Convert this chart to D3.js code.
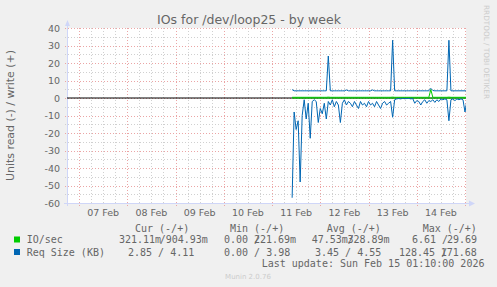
<!DOCTYPE html>
<html>
<head>
<meta charset="utf-8">
<script src="https://cdn.jsdelivr.net/npm/d3@7"></script>
<style>
  html, body { margin: 0; padding: 0; background: #f0f0f0; }
  svg { display: block; }
</style>
</head>
<body>
<svg id="chart" width="497" height="287"></svg>
<script>
// ── Data (hourly samples from Feb 11 10:00 UTC) ─────────────────────
const SERIES_START = Date.UTC(2026, 1, 11, 10, 0);

const reqSizeRead = [
  -57, -8, -18, -13, -48, -10, -1, -12, -3, -23,
  -2, -1, -2, -14, -6, -9, -3, -12, -2, -4,
  -1, -5, -2, -4, -14, -3, -1, -4, -2, -3,
  -5, -2, -4, -6, -2, -4, -3, -5, -2, -4,
  -3, -5, -2, -4, -6, -3, -2, -4, -3, -2,
  -11, -1, -0.5, -0.3, -0.5, -0.2, -0.4, -0.3, -0.2, -0.5,
  -0.3, -3, -1.5, -2, -4, -2, -1, -3, -1.5, -2,
  -1, -2.5, -1, -2, -0.5, -1, -0.5, -1, -13, -1,
  -0.5, -1.5, -0.5, -1, -0.5, -1, -8, -1
];
const reqSizeWrite = [
  4.8, 4.1, 4.1, 4.1, 4.1, 4.1, 4.1, 4.1, 4.1, 4.1,
  4.1, 4.1, 4.1, 4.1, 4.1, 4.1, 4.1, 4.1, 24, 4.1,
  4.1, 4.1, 4.1, 4.1, 4.1, 4.1, 4.1, 4.6, 4.1, 4.1,
  4.1, 4.1, 4.1, 4.1, 4.1, 4.1, 4.1, 4.1, 4.1, 4.1,
  4.6, 4.1, 4.1, 4.1, 4.1, 4.1, 4.1, 4.1, 4.1, 4.1,
  33, 4.1, 4.1, 4.1, 4.1, 4.1, 4.1, 4.1, 4.1, 4.1,
  4.1, 4.1, 4.1, 4.1, 4.1, 4.1, 4.1, 4.1, 4.1, 5.5,
  4.3, 4.1, 4.1, 4.1, 4.1, 4.1, 4.1, 4.1, 33, 4.1,
  4.1, 4.1, 4.1, 4.1, 4.1, 4.1, 4.1, 4.1
];
const ioRead = [
  -0.05, -0.05, -0.05, -0.05, -0.1, -0.05, -0.05, -0.05, -0.05, -0.05,
  -0.05, -0.05, -0.05, -0.05, -0.05, -0.05, -0.05, -0.05, -0.05, -0.05,
  -0.05, -0.05, -0.05, -0.05, -0.05, -0.05, -0.05, -0.05, -0.05, -0.05,
  -0.05, -0.05, -0.05, -0.05, -0.05, -0.05, -0.05, -0.05, -0.05, -0.05,
  -0.05, -0.05, -0.05, -0.05, -0.05, -0.05, -0.05, -0.05, -0.05, -0.05,
  -0.1, -0.05, -0.05, -0.05, -0.05, -0.05, -0.05, -0.05, -0.05, -0.05,
  -0.05, -0.05, -0.05, -0.05, -0.05, -0.05, -0.05, -0.05, -0.05, -0.1,
  -0.05, -0.05, -0.05, -0.05, -0.05, -0.05, -0.05, -0.05, -0.1, -0.05,
  -0.05, -0.05, -0.05, -0.05, -0.05, -0.05, -0.05, -0.05
];
const ioWrite = [
  0.4, 0.4, 0.4, 0.4, 0.4, 0.4, 0.4, 0.4, 0.4, 0.4,
  0.4, 0.4, 0.4, 0.4, 0.4, 0.4, 0.4, 0.4, 0.5, 0.4,
  0.4, 0.4, 0.4, 0.4, 0.4, 0.4, 0.4, 0.4, 0.4, 0.4,
  0.4, 0.4, 0.4, 0.4, 0.4, 0.4, 0.4, 0.4, 0.4, 0.4,
  0.4, 0.4, 0.4, 0.4, 0.4, 0.4, 0.4, 0.4, 0.4, 0.4,
  0.5, 0.4, 0.4, 0.4, 0.4, 0.4, 0.4, 0.4, 0.4, 0.4,
  0.4, 0.4, 0.4, 0.4, 0.4, 0.4, 0.4, 0.4, 0.4, 4.8,
  0.4, 0.4, 0.4, 0.4, 0.4, 0.4, 0.4, 0.4, 0.5, 0.4,
  0.4, 0.4, 0.4, 0.4, 0.4, 0.4, 0.4, 0.4
];

const yTicks = [40, 30, 20, 10, 0, -10, -20, -30, -40, -50, -60];

const legendNames  = ['IO/sec', 'Req Size (KB)'];
const legendColors = ['#00cc00', '#0066b3'];
const legendHeads  = ['Cur (-/+)', 'Min (-/+)', 'Avg (-/+)', 'Max (-/+)'];
// each cell is a list of text pieces (rrdtool overlaps some of them)
const legendCells = [
  [['321.11m', '/904.93m'], ['0.00 /', '221.69m'], ['47.53m/', '328.89m'], ['6.61 /', '29.69']],
  [['2.85 / 4.11'], ['0.00 / 3.98'], ['3.45 / 4.55'], ['128.45 /', '171.68']]
];
const lastUpdate = 'Last update: Sun Feb 15 01:10:00 2026';

// ── Layout ──────────────────────────────────────────────────────────
const W = 497, H = 287;
const PLOT = { left: 67, right: 466, top: 28, bottom: 203 };
const FONT = '#666666';
const SANS = '"DejaVu Sans", sans-serif';
const MONO = '"DejaVu Sans Mono", monospace';

const svg = d3.select('#chart');
svg.append('rect').attr('width', W).attr('height', H).attr('fill', '#f0f0f0');

const x = d3.scaleUtc()
  .domain([Date.UTC(2026, 1, 6, 18, 0), Date.UTC(2026, 1, 15, 0, 30)])
  .range([PLOT.left, PLOT.right]);
const y = d3.scaleLinear().domain([-60, 40]).range([PLOT.bottom, PLOT.top]);

svg.append('rect')
  .attr('x', PLOT.left).attr('y', PLOT.top)
  .attr('width', PLOT.right - PLOT.left).attr('height', PLOT.bottom - PLOT.top)
  .attr('fill', '#ffffff');

// ── Grid ────────────────────────────────────────────────────────────
const grid = svg.append('g').attr('shape-rendering', 'crispEdges');
const [t0, t1] = x.domain();

// minor: every 6h / every 5 units
d3.utcHour.every(6).range(t0, t1).forEach(t => {
  if (t.getUTCHours() === 0) return;
  const px = Math.round(x(t)) + 0.5;
  grid.append('line').attr('x1', px).attr('x2', px)
    .attr('y1', PLOT.top).attr('y2', PLOT.bottom + 2)
    .attr('stroke', '#d0d0d0').attr('stroke-dasharray', '1,2');
});
d3.range(-55, 40, 10).forEach(v => {
  const py = Math.round(y(v)) + 0.5;
  grid.append('line').attr('x1', PLOT.left - 2).attr('x2', PLOT.right)
    .attr('y1', py).attr('y2', py)
    .attr('stroke', '#d0d0d0').attr('stroke-dasharray', '1,2');
});

// major: days / every 10 units
d3.utcDay.range(t0, t1).forEach(t => {
  const px = Math.round(x(t)) + 0.5;
  grid.append('line').attr('x1', px).attr('x2', px)
    .attr('y1', PLOT.top).attr('y2', PLOT.bottom + 3)
    .attr('stroke', '#eba5a5').attr('stroke-dasharray', '1,2');
});
yTicks.forEach(v => {
  const py = Math.round(y(v)) + 0.5;
  grid.append('line').attr('x1', PLOT.left - 2).attr('x2', PLOT.right)
    .attr('y1', py).attr('y2', py)
    .attr('stroke', '#eba5a5').attr('stroke-dasharray', '1,2');
});

// ── Axes ────────────────────────────────────────────────────────────
const AXIS = '#cfd6f8';
grid.append('line').attr('x1', PLOT.left + 0.5).attr('x2', PLOT.left + 0.5)
  .attr('y1', PLOT.bottom + 3).attr('y2', PLOT.top - 6).attr('stroke', AXIS);
grid.append('line').attr('x1', PLOT.left - 3).attr('x2', PLOT.right + 5)
  .attr('y1', PLOT.bottom + 0.5).attr('y2', PLOT.bottom + 0.5).attr('stroke', AXIS);
svg.append('path')
  .attr('d', `M${PLOT.left - 2},${PLOT.top - 2} L${PLOT.left + 0.5},${PLOT.top - 8} L${PLOT.left + 3},${PLOT.top - 2} Z`)
  .attr('fill', AXIS);
svg.append('path')
  .attr('d', `M${PLOT.right + 3},${PLOT.bottom - 2.5} L${PLOT.right + 9},${PLOT.bottom + 0.5} L${PLOT.right + 3},${PLOT.bottom + 3.5} Z`)
  .attr('fill', AXIS);

// tick labels
svg.append('g').selectAll('text').data(yTicks).join('text')
  .attr('x', 60).attr('y', d => y(d) + 3.5)
  .attr('text-anchor', 'end')
  .attr('font-family', SANS).attr('font-size', 9.5).attr('fill', FONT)
  .text(d => d);

const fmtDay = d3.utcFormat('%d %b');
svg.append('g').selectAll('text')
  .data(d3.utcDay.range(t0, t1).map(t => d3.utcHour.offset(t, 12)).filter(t => t < t1))
  .join('text')
  .attr('x', d => x(d)).attr('y', 216)
  .attr('text-anchor', 'middle')
  .attr('font-family', SANS).attr('font-size', 9.5).attr('fill', FONT)
  .text(d => fmtDay(d));

// ── Zero line + data ────────────────────────────────────────────────
svg.append('line')
  .attr('x1', PLOT.left).attr('x2', PLOT.right)
  .attr('y1', y(0)).attr('y2', y(0))
  .attr('stroke', '#000').attr('stroke-width', 1);

svg.append('clipPath').attr('id', 'plotclip')
  .append('rect').attr('x', PLOT.left).attr('y', PLOT.top - 10)
  .attr('width', PLOT.right - PLOT.left).attr('height', PLOT.bottom - PLOT.top + 10);

const line = d3.line()
  .x((d, i) => x(SERIES_START + i * 3600000))
  .y(d => y(d));

const data = svg.append('g').attr('clip-path', 'url(#plotclip)');
[[ioRead, legendColors[0]], [reqSizeRead, legendColors[1]],
 [reqSizeWrite, legendColors[1]], [ioWrite, legendColors[0]]]
  .forEach(([vals, color]) => {
    data.append('path').datum(vals)
      .attr('d', line)
      .attr('fill', 'none')
      .attr('stroke', color)
      .attr('stroke-width', 1);
  });

// ── Titles ──────────────────────────────────────────────────────────
svg.append('text')
  .attr('x', 249).attr('y', 24)
  .attr('text-anchor', 'middle')
  .attr('font-family', SANS).attr('font-size', 12.5).attr('fill', FONT)
  .text('IOs for /dev/loop25 - by week');

svg.append('text')
  .attr('transform', 'translate(14,115.5) rotate(-90)')
  .attr('text-anchor', 'middle')
  .attr('font-family', SANS).attr('font-size', 10.9).attr('fill', FONT)
  .text('Units read (-) / write (+)');

svg.append('text')
  .attr('transform', 'translate(484,52) rotate(90)')
  .attr('text-anchor', 'middle')
  .attr('font-family', SANS).attr('font-size', 7.3).attr('fill', '#cccccc')
  .text('RRDTOOL / TOBI OETIKER');

// ── Legend ──────────────────────────────────────────────────────────
const legend = svg.append('g')
  .attr('font-family', MONO).attr('font-size', 10).attr('fill', FONT)
  .attr('xml:space', 'preserve');

const headX = [135, 230, 326.7, 422.7];
legendHeads.forEach((h, i) => {
  legend.append('text').attr('x', headX[i]).attr('y', 231.5).text(h);
});

const rowY = [243, 255.5];
const pieceX = [
  [[119, 159.7], [224, 254], [311.7, 347.5], [412, 447]],
  [[128], [224], [315], [399, 440.7]]
];
legendNames.forEach((name, r) => {
  legend.append('rect')
    .attr('x', 14).attr('y', rowY[r] - 6.5).attr('width', 6).attr('height', 6)
    .attr('fill', legendColors[r]);
  legend.append('text').attr('x', 26.7).attr('y', rowY[r]).text(name);
  legendCells[r].forEach((pieces, c) => {
    pieces.forEach((p, k) => {
      legend.append('text').attr('x', pieceX[r][c][k]).attr('y', rowY[r]).text(p);
    });
  });
});

legend.append('text').attr('x', 261.7).attr('y', 267).text(lastUpdate);

svg.append('text')
  .attr('x', 248).attr('y', 279)
  .attr('text-anchor', 'middle')
  .attr('font-family', SANS).attr('font-size', 7).attr('fill', '#cccccc')
  .text('Munin 2.0.76');
</script>
</body>
</html>
